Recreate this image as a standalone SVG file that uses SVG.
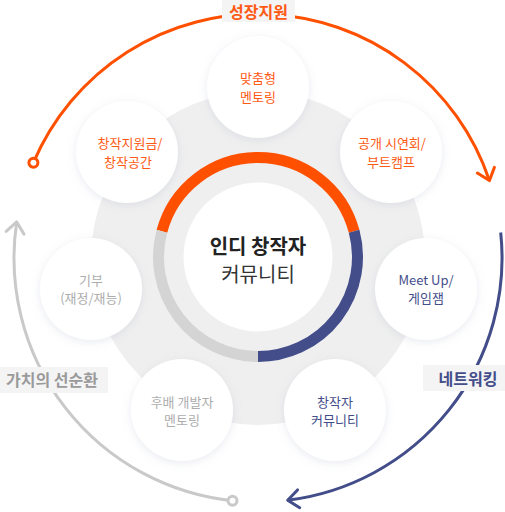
<svg xmlns="http://www.w3.org/2000/svg" width="505" height="512" viewBox="0 0 505 512">
<style>
text{font-family:"Noto Sans CJK KR","Noto Sans",sans-serif;text-anchor:middle}
.bt{font-size:13px}
.o{fill:#ff5a14}
.n{fill:#434d8a}
.g{fill:#adadad}
.lab{font-size:16px;font-weight:bold}
.bub{fill:#fff;filter:url(#sh)}
.arc{fill:none;stroke-width:3}
.ring{fill:none;stroke-width:11}
.box{fill:#f4f4f5}
</style>
<defs>
<filter id="sh" x="-30%" y="-30%" width="160%" height="160%">
<feDropShadow dx="0" dy="2" stdDeviation="4" flood-color="#9aa0c0" flood-opacity="0.22"/>
</filter>
<marker id="ao" markerUnits="userSpaceOnUse" orient="auto" markerWidth="30" markerHeight="30" refX="15" refY="15" viewBox="0 0 30 30">
<path d="M4,6 L15,15 L4,24" fill="none" stroke="#ff5000" stroke-width="3" stroke-linecap="round" stroke-linejoin="round"/>
</marker>
<marker id="an" markerUnits="userSpaceOnUse" orient="auto" markerWidth="30" markerHeight="30" refX="15" refY="15" viewBox="0 0 30 30">
<path d="M4,6 L15,15 L4,24" fill="none" stroke="#434d8a" stroke-width="3" stroke-linecap="round" stroke-linejoin="round"/>
</marker>
<marker id="ag" markerUnits="userSpaceOnUse" orient="auto" markerWidth="30" markerHeight="30" refX="15" refY="15" viewBox="0 0 30 30">
<path d="M4,6 L15,15 L4,24" fill="none" stroke="#c9c9c9" stroke-width="3" stroke-linecap="round" stroke-linejoin="round"/>
</marker>
<marker id="co" markerUnits="userSpaceOnUse" markerWidth="16" markerHeight="16" refX="8" refY="8" viewBox="0 0 16 16">
<circle cx="8" cy="8" r="4.5" fill="#fff" stroke="#ff5000" stroke-width="3"/>
</marker>
<marker id="cg" markerUnits="userSpaceOnUse" markerWidth="16" markerHeight="16" refX="8" refY="8" viewBox="0 0 16 16">
<circle cx="8" cy="8" r="4.5" fill="#fff" stroke="#c9c9c9" stroke-width="3"/>
</marker>
</defs>
<rect width="505" height="512" fill="#fff"/>
<circle id="bg-disc" cx="258" cy="258" r="167" fill="#efefef"/>

<g id="connectors">
<path class="arc" stroke="#ff5000" d="M33.4,162.7 A244,244 0 0 1 489.4,180.6" marker-start="url(#co)" marker-end="url(#ao)"/>
<path class="arc" stroke="#434d8a" d="M500.7,232.5 A244,244 0 0 1 287.7,500.2" marker-end="url(#an)"/>
<path class="arc" stroke="#c9c9c9" d="M232.5,500.7 A244,244 0 0 1 16.7,221.9" marker-start="url(#cg)" marker-end="url(#ag)"/>
</g>

<g id="label-growth">
<rect class="box" x="222" y="0" width="73" height="22"/>
<text class="lab o" x="258.5" y="18">성장지원</text>
</g>
<g id="label-network">
<rect class="box" x="423" y="365" width="82" height="26"/>
<text class="lab n" x="468" y="384.5">네트워킹</text>
</g>
<g id="label-value">
<rect class="box" x="0" y="367" width="108" height="26"/>
<text class="lab" fill="#9a9a9a" x="52" y="386">가치의 선순환</text>
</g>

<g id="center">
<circle cx="258" cy="257" r="74.5" fill="#fff"/>
<path class="ring" stroke="#ff5000" d="M161.9,231.25 A99.5,99.5 0 0 1 354.1,231.25"/>
<path class="ring" stroke="#434d8a" d="M354.1,231.25 A99.5,99.5 0 0 1 258,356.5"/>
<path class="ring" stroke="#d4d4d4" d="M258,356.5 A99.5,99.5 0 0 1 161.9,231.25"/>
<text x="258" y="254" font-size="20" font-weight="bold" fill="#222">인디 창작자</text>
<text x="258" y="282" font-size="20" fill="#333">커뮤니티</text>
</g>

<g id="b1">
<circle class="bub" cx="258" cy="87" r="51"/>
<text class="bt o" x="258" y="83">맞춤형</text>
<text class="bt o" x="258" y="102">멘토링</text>
</g>
<g id="b2">
<circle class="bub" cx="391" cy="152" r="51"/>
<text class="bt o" x="392" y="148">공개 시연회/</text>
<text class="bt o" x="391" y="167">부트캠프</text>
</g>
<g id="b3">
<circle class="bub" cx="426" cy="289" r="51"/>
<text class="bt n" x="426" y="285">Meet Up/</text>
<text class="bt n" x="426" y="303">게임잼</text>
</g>
<g id="b4">
<circle class="bub" cx="335" cy="410" r="51"/>
<text class="bt n" x="335" y="407">창작자</text>
<text class="bt n" x="335" y="425">커뮤니티</text>
</g>
<g id="b5">
<circle class="bub" cx="182" cy="410" r="51"/>
<text class="bt g" x="182" y="407">후배 개발자</text>
<text class="bt g" x="182" y="425">멘토링</text>
</g>
<g id="b6">
<circle class="bub" cx="91" cy="289" r="51"/>
<text class="bt g" x="91" y="285">기부</text>
<text class="bt g" x="91" y="303">(재정/재능)</text>
</g>
<g id="b7">
<circle class="bub" cx="127" cy="152" r="51"/>
<text class="bt o" x="130" y="148">창작지원금/</text>
<text class="bt o" x="128" y="167">창작공간</text>
</g>
</svg>
